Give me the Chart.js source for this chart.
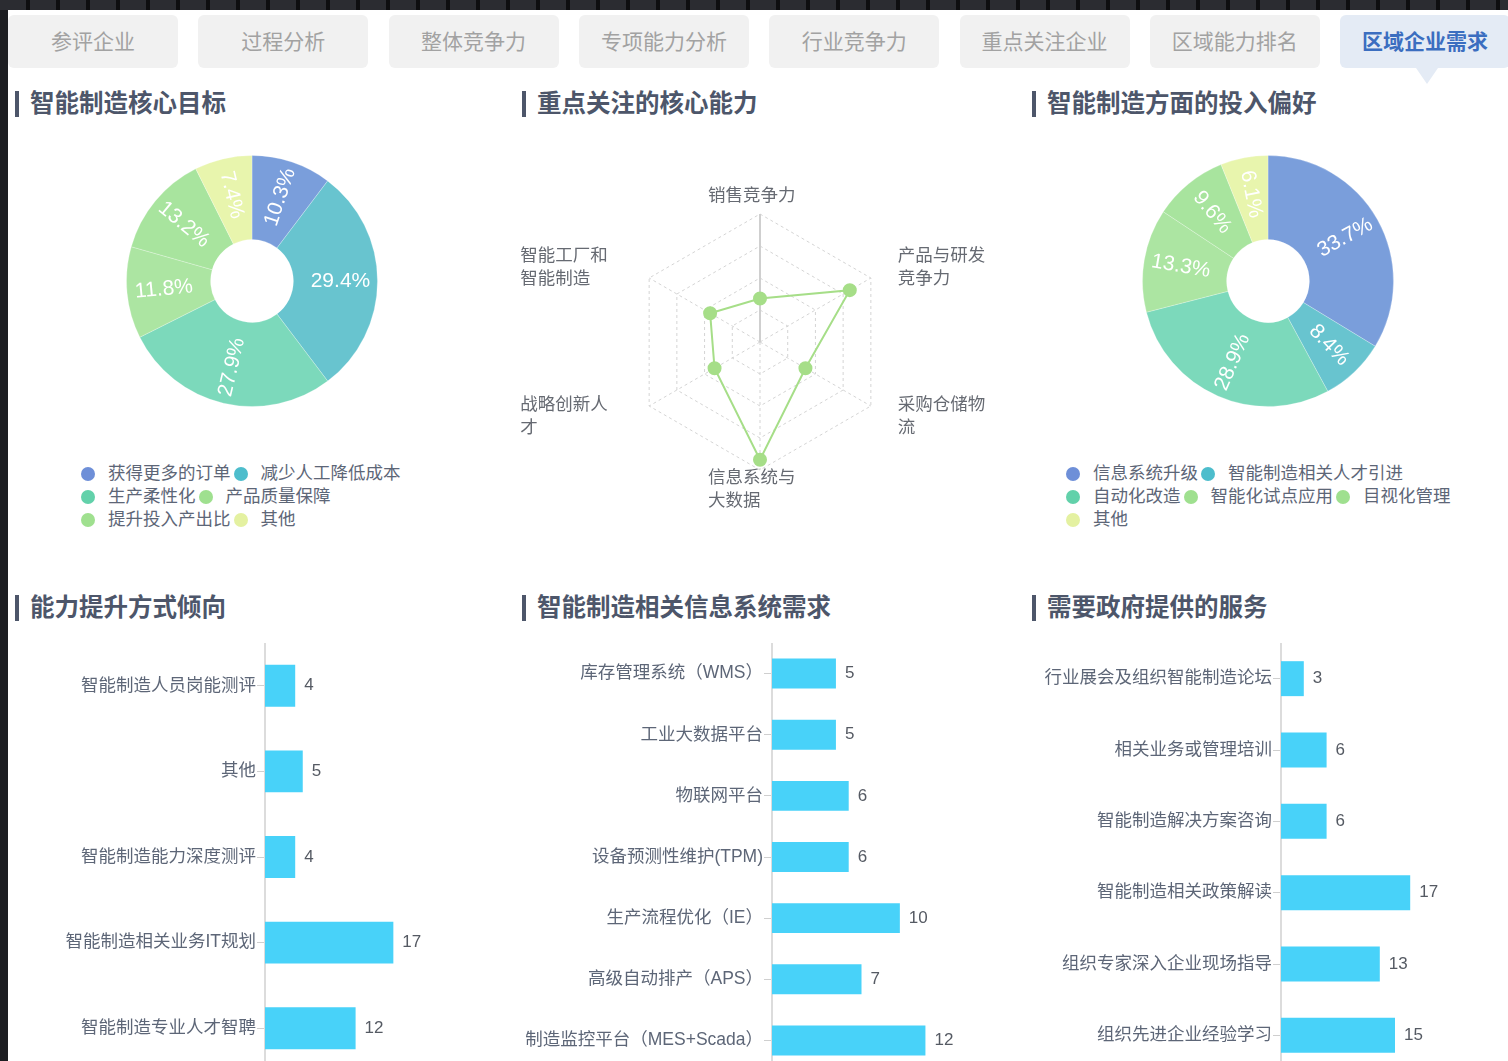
<!DOCTYPE html>
<html lang="zh-CN">
<head>
<meta charset="utf-8">
<title>区域企业需求</title>
<script src="https://cdn.jsdelivr.net/npm/chart.js@4.4.1/dist/chart.umd.min.js"></script>
<style>
    html, body {
        margin: 0;
        padding: 0;
        width: 1508px;
        height: 1061px;
        overflow: hidden;
        background: #1d1e22;
        font-family: "Liberation Sans", "Noto Sans CJK SC", sans-serif;
    }
    .strip {
        position: absolute; left: 0; top: 0; width: 1508px; height: 10px;
        background: repeating-linear-gradient(90deg, #2b2c31 0 26px, #0e0e10 26px 30px);
    }
    .panel {
        position: absolute; left: 8px; top: 10px; width: 1500px; height: 1051px;
        background: #ffffff;
    }
    .tab {
        position: absolute; top: 15px; height: 53px; width: 170px;
        background: #f1f1f1; border-radius: 6px;
        color: #a2a2a2; font-size: 21px; line-height: 53px; text-align: center;
    }
    .tab.active { background: #e4ebf5; color: #3b6ec0; font-weight: bold; }
    .tab.active::after {
        content: ""; position: absolute; left: 76px; top: 53px;
        border-left: 11px solid transparent; border-right: 11px solid transparent;
        border-top: 16px solid #e4ebf5;
    }
    .title {
        position: absolute; height: 26px; line-height: 26px;
        padding-left: 11px; border-left: 4px solid #4d566a;
        color: #4d566a; font-size: 24.5px; font-weight: bold;
    }
    .legend {
        position: absolute; display: flex; flex-wrap: wrap;
        color: #5d6677; font-size: 17.5px; line-height: 23px;
    }
    .legend span.item { display: inline-flex; align-items: center; margin-right: 3px; white-space: nowrap; }
    .legend i { width: 14px; height: 14px; border-radius: 50%; margin-right: 13px; display: inline-block; }
    canvas { position: absolute; }
</style>
</head>
<body>
<div class="strip"></div>
<div class="panel"></div>
<div id="tabs"></div>

<div class="title" style="left:15px; top:91px;">智能制造核心目标</div>
<div class="title" style="left:522px; top:91px;">重点关注的核心能力</div>
<div class="title" style="left:1032px; top:91px;">智能制造方面的投入偏好</div>
<div class="title" style="left:15px; top:595px;">能力提升方式倾向</div>
<div class="title" style="left:522px; top:595px;">智能制造相关信息系统需求</div>
<div class="title" style="left:1032px; top:595px;">需要政府提供的服务</div>

<canvas id="goalChart" width="252" height="252" style="left:126px; top:155px;"></canvas>
<div class="legend" id="goalLegend" style="left:81px; top:462px; width:340px;"></div>

<canvas id="radarChart" width="500" height="360" style="left:500px; top:170px;"></canvas>

<canvas id="investChart" width="252" height="252" style="left:1142px; top:155px;"></canvas>
<div class="legend" id="investLegend" style="left:1066px; top:462px; width:400px;"></div>

<canvas id="methodChart" width="500" height="428" style="left:0px; top:643px;"></canvas>
<canvas id="systemChart" width="500" height="428" style="left:500px; top:643px;"></canvas>
<canvas id="serviceChart" width="498" height="428" style="left:1010px; top:643px;"></canvas>

<script>
// Tabs
const tabLabels = ['参评企业', '过程分析', '整体竞争力', '专项能力分析', '行业竞争力', '重点关注企业', '区域能力排名', '区域企业需求'];

// 智能制造核心目标
const goalLabels = ['获得更多的订单', '减少人工降低成本', '生产柔性化', '产品质量保障', '提升投入产出比', '其他'];
const goalValues = [10.3, 29.4, 27.9, 11.8, 13.2, 7.4];

// 重点关注的核心能力
const radarLabels = [['销售竞争力'], ['产品与研发', '竞争力'], ['采购仓储物', '流'], ['信息系统与', '大数据'], ['战略创新人', '才'], ['智能工厂和', '智能制造']];
const radarValues = [34, 81, 41, 92, 41, 45];

// 智能制造方面的投入偏好
const investLabels = ['信息系统升级', '智能制造相关人才引进', '自动化改造', '智能化试点应用', '目视化管理', '其他'];
const investValues = [33.7, 8.4, 28.9, 13.3, 9.6, 6.1];

// 能力提升方式倾向
const methodLabels = ['智能制造人员岗能测评', '其他', '智能制造能力深度测评', '智能制造相关业务IT规划', '智能制造专业人才智聘'];
const methodValues = [4, 5, 4, 17, 12];

// 智能制造相关信息系统需求
const systemLabels = ['库存管理系统（WMS）', '工业大数据平台', '物联网平台', '设备预测性维护(TPM)', '生产流程优化（IE）', '高级自动排产（APS）', '制造监控平台（MES+Scada）'];
const systemValues = [5, 5, 6, 6, 10, 7, 12];

// 需要政府提供的服务
const serviceLabels = ['行业展会及组织智能制造论坛', '相关业务或管理培训', '智能制造解决方案咨询', '智能制造相关政策解读', '组织专家深入企业现场指导', '组织先进企业经验学习'];
const serviceValues = [3, 6, 6, 17, 13, 15];

const sliceColors = ['#7a9edb', '#68c4cf', '#7cd9bb', '#ace5a2', '#a8e49e', '#e8f5ad'];
const legendColors = ['#6e8fd8', '#4dbdcc', '#62d1aa', '#9fe08f', '#9fe08f', '#e4f1a1'];
const FONT = '"Liberation Sans", "Noto Sans CJK SC", sans-serif';

Chart.defaults.animation = false;
Chart.defaults.font.family = FONT;

// build tabs
const tabsEl = document.getElementById('tabs');
tabLabels.forEach((t, i) => {
    const d = document.createElement('div');
    d.className = 'tab' + (i === tabLabels.length - 1 ? ' active' : '');
    d.style.left = (8 + i * 190.3) + 'px';
    d.textContent = t;
    tabsEl.appendChild(d);
});

function buildLegend(id, labels) {
    const el = document.getElementById(id);
    labels.forEach((l, i) => {
        const s = document.createElement('span');
        s.className = 'item';
        s.innerHTML = `<i style="background:${legendColors[i]}"></i>${l}`;
        el.appendChild(s);
    });
}
buildLegend('goalLegend', goalLabels);
buildLegend('investLegend', investLabels);

// rotated percentage labels inside donut slices
const sliceLabelPlugin = {
    id: 'sliceLabels',
    afterDatasetsDraw(chart) {
        const ctx = chart.ctx;
        const meta = chart.getDatasetMeta(0);
        ctx.save();
        ctx.fillStyle = '#ffffff';
        ctx.font = '21px ' + FONT;
        ctx.textAlign = 'center';
        ctx.textBaseline = 'middle';
        meta.data.forEach((arc, i) => {
            const mid = (arc.startAngle + arc.endAngle) / 2;
            const r = (arc.innerRadius + arc.outerRadius) / 2 + 5;
            const x = arc.x + Math.cos(mid) * r;
            const y = arc.y + Math.sin(mid) * r;
            let rot = mid;
            while (rot > Math.PI) rot -= 2 * Math.PI;
            while (rot < -Math.PI) rot += 2 * Math.PI;
            if (rot > Math.PI / 2 || rot < -Math.PI / 2) rot += Math.PI;
            ctx.save();
            ctx.translate(x, y);
            ctx.rotate(rot);
            ctx.fillText(chart.data.datasets[0].data[i] + '%', 0, 0);
            ctx.restore();
        });
        ctx.restore();
    }
};

function makeDonut(id, labels, values) {
    new Chart(document.getElementById(id), {
        type: 'doughnut',
        data: {
            labels: labels,
            datasets: [{
                data: values,
                backgroundColor: sliceColors,
                borderColor: 'rgba(255,255,255,0.25)',
                borderWidth: 1,
                hoverOffset: 0
            }]
        },
        options: {
            responsive: false,
            cutout: '33%',
            plugins: { legend: { display: false }, tooltip: { enabled: false } }
        },
        plugins: [sliceLabelPlugin]
    });
}
makeDonut('goalChart', goalLabels, goalValues);
makeDonut('investChart', investLabels, investValues);

// radar axis names, placed relative to the outer vertices
const radarLabelOffsets = [[-52, -18], [27, -22], [27, -1], [-52, 8], [-129, -1], [-129, -22]];
const radarLabelPlugin = {
    id: 'radarLabels',
    afterDraw(chart) {
        const scale = chart.scales.r;
        const ctx = chart.ctx;
        ctx.save();
        ctx.fillStyle = '#666a72';
        ctx.font = '17.5px ' + FONT;
        ctx.textAlign = 'left';
        ctx.textBaseline = 'middle';
        radarLabels.forEach((lines, i) => {
            const p = scale.getPointPosition(i, scale.drawingArea);
            const [dx, dy] = radarLabelOffsets[i];
            lines.forEach((line, k) => ctx.fillText(line, p.x + dx, p.y + dy + k * 23));
        });
        ctx.restore();
    }
};

new Chart(document.getElementById('radarChart'), {
    type: 'radar',
    data: {
        labels: radarLabels.map(l => l.join('')),
        datasets: [{
            data: radarValues,
            borderColor: '#a6de88',
            backgroundColor: '#a6de88',
            pointBackgroundColor: '#a6de88',
            pointBorderColor: '#a6de88',
            pointRadius: 6,
            borderWidth: 2,
            fill: false
        }]
    },
    options: {
        responsive: false,
        layout: { padding: { left: 132, right: 112, top: 44, bottom: 60 } },
        scales: {
            r: {
                min: 0,
                max: 100,
                ticks: { display: false, stepSize: 25 },
                pointLabels: { display: false },
                grid: { color: '#d4d4d4', lineWidth: 1 },
                border: { dash: [3, 3] },
                angleLines: {
                    color: ctx => ctx.index === 0 ? '#cfcfcf' : '#d4d4d4',
                    lineWidth: ctx => ctx.index === 0 ? 2 : 1,
                    borderDash: ctx => ctx.index === 0 ? [] : [3, 3]
                }
            }
        },
        plugins: { legend: { display: false }, tooltip: { enabled: false } }
    },
    plugins: [radarLabelPlugin]
});

// value text at the end of each bar
const barValuePlugin = {
    id: 'barValues',
    afterDatasetsDraw(chart) {
        const ctx = chart.ctx;
        const meta = chart.getDatasetMeta(0);
        ctx.save();
        ctx.fillStyle = '#555a63';
        ctx.font = '17px ' + FONT;
        ctx.textAlign = 'left';
        ctx.textBaseline = 'middle';
        meta.data.forEach((bar, i) => {
            ctx.fillText(chart.data.datasets[0].data[i], bar.x + 9, bar.y);
        });
        ctx.restore();
    }
};

function makeBars(id, labels, values, axisWidth, xMax, rightPad) {
    new Chart(document.getElementById(id), {
        type: 'bar',
        data: {
            labels: labels,
            datasets: [{
                data: values,
                backgroundColor: '#48d2f9',
                categoryPercentage: 1,
                barPercentage: 0.49
            }]
        },
        options: {
            responsive: false,
            indexAxis: 'y',
            layout: { padding: { left: 0, right: rightPad, top: 0, bottom: 0 } },
            scales: {
                x: { display: false, min: 0, max: xMax },
                y: {
                    afterFit: scale => {
                        scale.width = axisWidth;
                        scale.paddingTop = 0;
                        scale.paddingBottom = 0;
                    },
                    ticks: { color: '#5d6677', font: { size: 17.5 }, padding: 1 },
                    grid: { drawOnChartArea: false, drawTicks: true, tickLength: 8, color: '#cfcfcf', offset: false },
                    border: { display: true, color: '#dcdcdc', width: 2 }
                }
            },
            plugins: { legend: { display: false }, tooltip: { enabled: false } }
        },
        plugins: [barValuePlugin]
    });
}
makeBars('methodChart', methodLabels, methodValues, 265, 20, 84);
makeBars('systemChart', systemLabels, systemValues, 272, 14, 49);
makeBars('serviceChart', serviceLabels, serviceValues, 271, 20, 75);
</script>
</body>
</html>
